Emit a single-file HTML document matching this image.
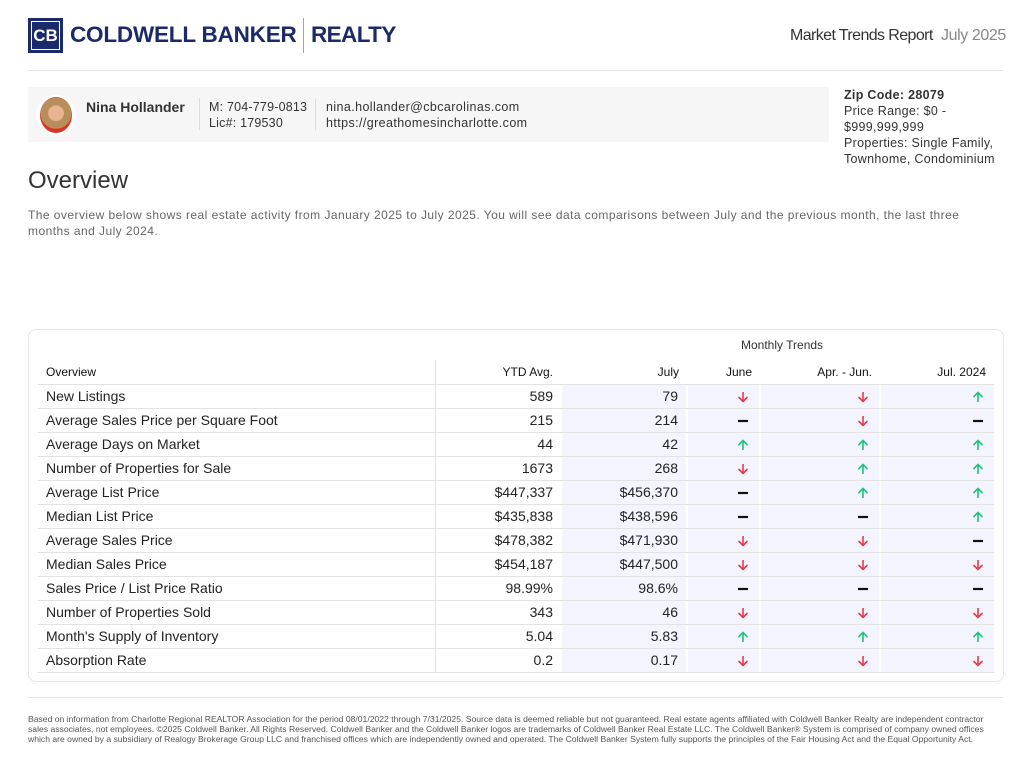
<!DOCTYPE html>
<html><head><meta charset="utf-8"><style>
*{margin:0;padding:0;box-sizing:border-box}
body{width:1030px;height:769px;background:#fff;font-family:"Liberation Sans",sans-serif;color:#222;position:relative;overflow:hidden}
.a{position:absolute;white-space:nowrap}
.r{position:absolute;left:38px;width:956px;height:24px;border-bottom:1px solid #e3e3e3}
.c{position:absolute;top:0;height:23px;line-height:23px;font-size:14px}
.sh{background:#f3f4fd}
.ar{position:absolute;top:6px}
</style></head><body>
<!-- logo -->
<div class="a" style="left:28px;top:18px;width:35px;height:35px;background:#1b2a6b;border:2px solid #1b2a6b;outline:1px solid #fff;outline-offset:-4px;color:#fff;font-weight:bold;font-size:17px;line-height:31px;text-align:center">CB</div>
<div class="a" style="left:70px;top:22px;font-size:22.5px;font-weight:bold;color:#1b2a6b;letter-spacing:-0.2px">COLDWELL BANKER</div>
<div class="a" style="left:303px;top:18px;width:1px;height:35px;background:#9aa3c0"></div>
<div class="a" style="left:311px;top:22px;font-size:22.5px;font-weight:bold;color:#1b2a6b;letter-spacing:-0.6px">REALTY</div>
<div class="a" style="left:790px;top:27px;font-size:16px;color:#333;letter-spacing:-0.6px">Market Trends Report</div>
<div class="a" style="left:941px;top:27px;font-size:16px;color:#888;letter-spacing:-0.4px">July 2025</div>
<div class="a" style="left:28px;top:70px;width:975px;height:1px;background:#e6e6e6"></div>
<!-- agent bar -->
<div class="a" style="left:28px;top:87px;width:801px;height:55px;background:#f6f6f6"></div>
<div class="a" style="left:36px;top:95px;width:40px;height:40px;border-radius:50%;background:#fff"></div>
<div class="a" style="left:40px;top:97px;width:32px;height:36px;border-radius:50%;background:radial-gradient(circle at 50% 45%,#e8b48f 0 30%,#b88e5a 32% 60%,#d32 62%)"></div>
<div class="a" style="left:86px;top:99px;font-size:14px;font-weight:bold;color:#333">Nina Hollander</div>
<div class="a" style="left:199px;top:98px;width:1px;height:32px;background:#ddd"></div>
<div class="a" style="left:209px;top:99px;font-size:12.5px;color:#333;line-height:16px;letter-spacing:0.2px">M: 704-779-0813<br>Lic#: 179530</div>
<div class="a" style="left:315px;top:98px;width:1px;height:32px;background:#ddd"></div>
<div class="a" style="left:326px;top:99px;font-size:12.5px;color:#333;line-height:16px;letter-spacing:0.4px">nina.hollander@cbcarolinas.com<br>https://greathomesincharlotte.com</div>
<div class="a" style="left:844px;top:87px;font-size:12.5px;color:#333;line-height:16px;letter-spacing:0.3px"><b>Zip Code: 28079</b><br>Price Range: $0 -<br>$999,999,999<br>Properties: Single Family,<br>Townhome, Condominium</div>
<div class="a" style="left:28px;top:167px;font-size:24px;color:#333">Overview</div>
<div class="a" style="left:28px;top:207px;font-size:12px;color:#666;line-height:16px;letter-spacing:0.45px;white-space:normal;width:955px">The overview below shows real estate activity from January 2025 to July 2025. You will see data comparisons between July and the previous month, the last three months and July 2024.</div>
<!-- card -->
<div class="a" style="left:28px;top:329px;width:976px;height:353px;border:1px solid #e6e6e6;border-radius:8px"></div>
<div class="a" style="left:741px;top:338px;font-size:12px;color:#333">Monthly Trends</div>
<div class="a" style="left:38px;top:360px;width:956px;height:25px;border-bottom:1px solid #e3e3e3;font-size:12px;color:#111">
<span class="a" style="left:8px;top:5px">Overview</span>
<span class="a" style="right:441px;top:5px">YTD Avg.</span>
<span class="a" style="right:315px;top:5px">July</span>
<span class="a" style="right:242px;top:5px">June</span>
<span class="a" style="right:122px;top:5px">Apr. - Jun.</span>
<span class="a" style="right:8px;top:5px">Jul. 2024</span>
</div>
<div class="a" style="left:435px;top:360px;width:1px;height:312px;background:#e3e3e3"></div>
<div id="rows"></div>
<svg width="0" height="0" style="position:absolute"><defs>
<symbol id="u" viewBox="0 0 12 12"><path d="M6 11V1.5M1.5 6L6 1.5 10.5 6" stroke="#1ec27a" stroke-width="1.6" fill="none"/></symbol>
<symbol id="d" viewBox="0 0 12 12"><path d="M6 1V10.5M1.5 6L6 10.5 10.5 6" stroke="#e83a4a" stroke-width="1.6" fill="none"/></symbol>
<symbol id="n" viewBox="0 0 12 12"><path d="M1 6H11" stroke="#111" stroke-width="2.2"/></symbol>
</defs></svg>
<script>
var D=[["New Listings","589","79","d","d","u"],["Average Sales Price per Square Foot","215","214","n","d","n"],["Average Days on Market","44","42","u","u","u"],["Number of Properties for Sale","1673","268","d","u","u"],["Average List Price","$447,337","$456,370","n","u","u"],["Median List Price","$435,838","$438,596","n","n","u"],["Average Sales Price","$478,382","$471,930","d","d","n"],["Median Sales Price","$454,187","$447,500","d","d","d"],["Sales Price / List Price Ratio","98.99%","98.6%","n","n","n"],["Number of Properties Sold","343","46","d","d","d"],["Month's Supply of Inventory","5.04","5.83","u","u","u"],["Absorption Rate","0.2","0.17","d","d","d"]];
var h="";
function ic(t,x){return '<svg class="ar" style="left:'+x+'px" width="12" height="12"><use href="#'+t+'"/></svg>';}
D.forEach(function(r,i){var y=385+24*i;
h+='<div class="r" style="top:'+y+'px">'+
'<div class="c" style="left:8px;color:#222">'+r[0]+'</div>'+
'<div class="c" style="left:398px;width:117px;text-align:right">'+r[1]+'</div>'+
'<div class="c sh" style="left:524px;width:124px;text-align:right;padding-right:8px">'+r[2]+'</div>'+
'<div class="c sh" style="left:650px;width:71px">'+ic(r[3],49)+'</div>'+
'<div class="c sh" style="left:723px;width:118px">'+ic(r[4],96)+'</div>'+
'<div class="c sh" style="left:843px;width:113px">'+ic(r[5],91)+'</div></div>';});
document.getElementById("rows").innerHTML=h;
</script>
<div class="a" style="left:28px;top:697px;width:975px;height:1px;background:#e6e6e6"></div>
<div class="a" style="left:28px;top:714px;width:975px;font-size:8.6px;color:#555;line-height:10px;white-space:normal">Based on information from Charlotte Regional REALTOR Association for the period 08/01/2022 through 7/31/2025. Source data is deemed reliable but not guaranteed. Real estate agents affiliated with Coldwell Banker Realty are independent contractor sales associates, not employees. ©2025 Coldwell Banker. All Rights Reserved. Coldwell Banker and the Coldwell Banker logos are trademarks of Coldwell Banker Real Estate LLC. The Coldwell Banker® System is comprised of company owned offices which are owned by a subsidiary of Realogy Brokerage Group LLC and franchised offices which are independently owned and operated. The Coldwell Banker System fully supports the principles of the Fair Housing Act and the Equal Opportunity Act.</div>
</body></html>
